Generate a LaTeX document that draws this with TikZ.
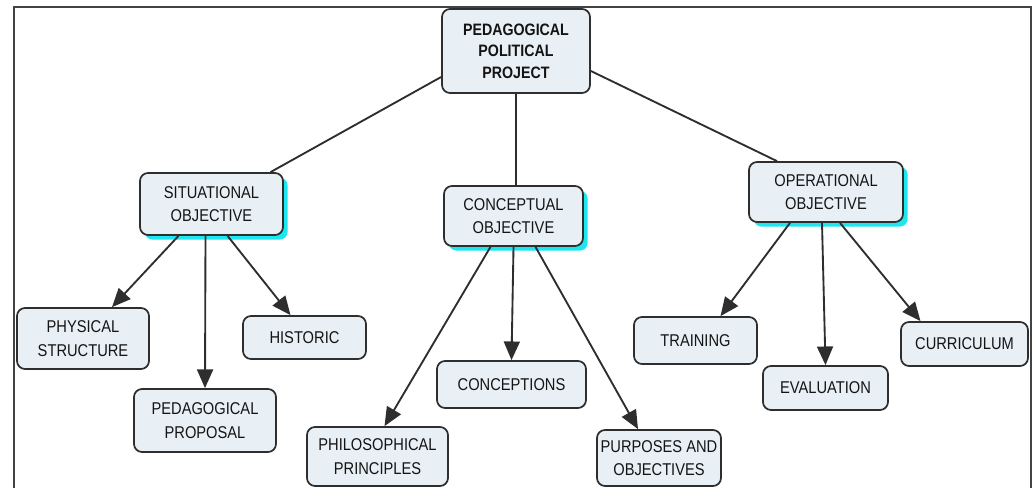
\documentclass[tikz,border=0pt]{standalone}
\usepackage{fontspec}
\setmainfont[FakeStretch=0.86]{Liberation Sans}
\usetikzlibrary{arrows.meta,calc,shadows}
\definecolor{boxfill}{HTML}{E8F0F5}
\definecolor{boxline}{HTML}{2E2E2E}
\definecolor{shadowcyan}{HTML}{1CE6F0}
\tikzset{
  box/.style={draw=boxline, line width=1.3pt, fill=boxfill, rounded corners=6pt,
    inner sep=0pt, align=center, font=\fontsize{12.8}{17.5}\selectfont, text=black!92},
  sbox/.style={box, drop shadow={fill=shadowcyan, opacity=1, shadow xshift=3.5pt, shadow yshift=-3.5pt}},
  link/.style={draw=boxline, line width=1.4pt},
  arr/.style={link, -{Triangle[length=14pt,width=12pt]}},
  frame/.style={draw=boxline!90, line width=1.6pt}
}
\begin{document}
\begin{tikzpicture}[x=0.75pt,y=-0.75pt]
\useasboundingbox (0,0) rectangle (1035,488);
\draw[frame] (14,488) -- (14,7) -- (1031,7) -- (1031,488);

\node[box, minimum width=111pt, minimum height=63pt, font=\bfseries\fontsize{12.4}{16}\selectfont] (ppp) at (516,51) {PEDAGOGICAL\\POLITICAL\\PROJECT};

\node[sbox, minimum width=107.25pt, minimum height=46.5pt] (sit) at (211.5,204) {SITUATIONAL\\OBJECTIVE};
\node[sbox, minimum width=104.25pt, minimum height=45pt] (con) at (513.5,216) {CONCEPTUAL\\OBJECTIVE};
\node[sbox, minimum width=115.5pt, minimum height=45pt] (op) at (826,192) {OPERATIONAL\\OBJECTIVE};

\node[box, minimum width=99pt, minimum height=45.75pt] (phys) at (83,338.5) {PHYSICAL\\STRUCTURE};
\node[box, minimum width=106.5pt, minimum height=47.25pt] (prop) at (205,420.5) {PEDAGOGICAL\\PROPOSAL};
\node[box, minimum width=92.25pt, minimum height=32.25pt] (hist) at (304.5,337.5) {HISTORIC};
\node[box, minimum width=111.75pt, minimum height=35.25pt] (conc) at (511.5,384.5) {CONCEPTIONS};
\node[box, minimum width=105.75pt, minimum height=44.25pt] (phil) at (377.5,456.5) {PHILOSOPHICAL\\PRINCIPLES};
\node[box, minimum width=93pt, minimum height=42pt] (purp) at (659,458) {PURPOSES AND\\OBJECTIVES};
\node[box, minimum width=92.25pt, minimum height=35.25pt] (train) at (695.5,340.5) {TRAINING};
\node[box, minimum width=93.75pt, minimum height=33pt] (eval) at (825.5,388) {EVALUATION};
\node[box, minimum width=95.25pt, minimum height=33pt] (curr) at (964.5,344) {CURRICULUM};

% top links
\draw[link] ($(ppp.west)+(0,26)$) -- ($(sit.north)+(59,0)$);
\draw[link] (ppp.south) -- (ppp.south |- con.north);
\draw[link] ($(ppp.east)+(0,20)$) -- ($(op.north)+(-49,0)$);

% situational
\draw[arr] ($(sit.south)+(-33,0)$) -- ($(phys.north)+(29,0)$);
\draw[arr] ($(sit.south)+(-6,0)$) -- (prop.north);
\draw[arr] ($(sit.south)+(16,0)$) -- ($(hist.north)+(-14,0)$);

% conceptual
\draw[arr] ($(con.south)+(-23,0)$) -- ($(phil.north)+(7,0)$);
\draw[arr] (con.south) -- (conc.north);
\draw[arr] ($(con.south)+(22,0)$) -- ($(purp.north)+(-21,0)$);

% operational
\draw[arr] ($(op.south)+(-36,0)$) -- ($(train.north)+(25,0)$);
\draw[arr] ($(op.south)+(-4,0)$) -- (eval.north);
\draw[arr] ($(op.south)+(14,0)$) -- ($(curr.north)+(-44,0)$);
\end{tikzpicture}
\end{document}
